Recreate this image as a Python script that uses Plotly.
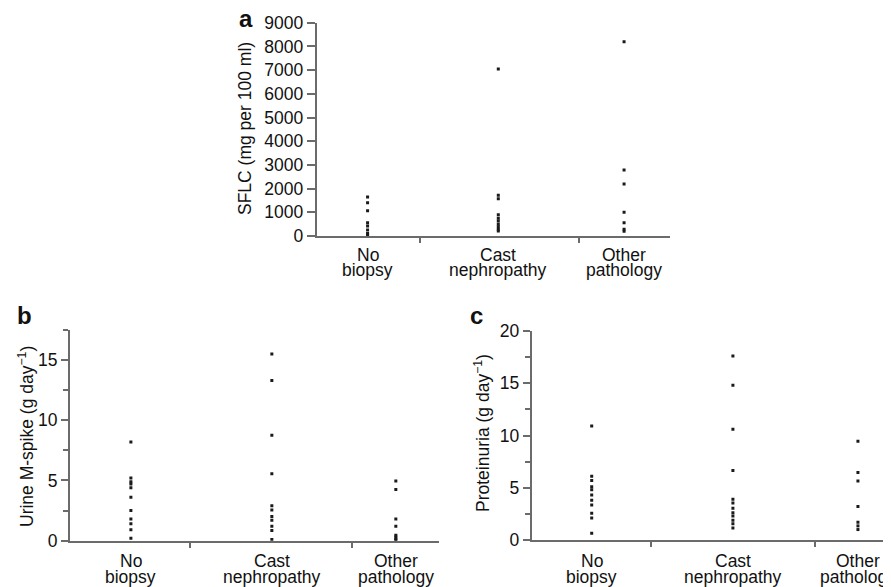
import plotly.graph_objects as go

category_lines = [["No", "biopsy"], ["Cast", "nephropathy"], ["Other", "pathology"]]

sflc_no_biopsy = [1650, 1400, 1070, 560, 420, 250, 110, 40]
sflc_cast = [7050, 1720, 1570, 900, 750, 630, 500, 390, 280, 210]
sflc_other = [8200, 2780, 2190, 1000, 560, 280, 200]

mspike_no_biopsy = [8.2, 5.2, 4.9, 4.7, 4.4, 3.6, 2.5, 1.8, 1.4, 0.9, 0.2]
mspike_cast = [15.5, 13.3, 8.75, 5.55, 2.9, 2.55, 2.0, 1.7, 1.2, 0.85, 0.1]
mspike_other = [4.95, 4.25, 1.8, 1.2, 0.45, 0.3, 0.15, 0.05]

prot_no_biopsy = [10.9, 6.1, 5.7, 5.1, 4.8, 4.3, 3.8, 3.35, 2.55, 2.1, 0.65]
prot_cast = [17.6, 14.8, 10.6, 6.65, 3.9, 3.55, 3.05, 2.6, 2.3, 1.9, 1.55, 1.15]
prot_other = [9.45, 6.45, 5.65, 3.2, 1.7, 1.35, 1.0]

# layout: category centres and separator ticks as fraction of each x axis
POS_A = [0.144, 0.514, 0.870]
SEP_A = [0.291, 0.743]
POS_B = [0.165, 0.547, 0.883]
SEP_B = [0.325, 0.764]
POS_C = [0.167, 0.560, 0.908]
SEP_C = [0.332, 0.788]

FONT = "Liberation Sans, Arial, sans-serif"
FS = 17.5
AXCOL = "#6b6b6b"
DOT = "#1a1a1a"
TXT = "#111111"
OFF = 8                      # page body margin offset
W, H = 891 - OFF, 587 - OFF  # figure size


def px(x):
    return (x - OFF) / W


def py(y):
    return (H - (y - OFF)) / H


fig = go.Figure()

panels = [
    ("x", "y", POS_A, [sflc_no_biopsy, sflc_cast, sflc_other]),
    ("x2", "y2", POS_B, [mspike_no_biopsy, mspike_cast, mspike_other]),
    ("x3", "y3", POS_C, [prot_no_biopsy, prot_cast, prot_other]),
]
for xa, ya, pos, groups in panels:
    for p, vals in zip(pos, groups):
        fig.add_trace(go.Scatter(
            x=[p] * len(vals), y=vals, xaxis=xa, yaxis=ya, mode="markers",
            marker=dict(symbol="square", size=3, color=DOT, line=dict(width=0)),
            showlegend=False, hoverinfo="y"))


def xaxis(domain, sep, anchor):
    return dict(domain=domain, range=[0, 1], anchor=anchor, automargin=False,
                showgrid=False, zeroline=False, showline=True,
                linecolor=AXCOL, linewidth=2,
                showticklabels=False, ticks="",
                minor=dict(tickmode="array", tickvals=sep, ticks="outside",
                           ticklen=5, tickwidth=2, tickcolor=AXCOL, showgrid=False),
                fixedrange=True)


def yaxis(domain, rng, dtick, anchor, minor=None, ticklen=6):
    d = dict(domain=domain, range=rng, anchor=anchor, automargin=False,
             showgrid=False, zeroline=False, showline=True,
             linecolor=AXCOL, linewidth=2,
             tickmode="linear", tick0=0, dtick=dtick,
             ticks="outside", ticklen=ticklen, tickwidth=2, tickcolor=AXCOL,
             tickfont=dict(family=FONT, size=FS, color=TXT),
             fixedrange=True)
    if minor:
        d["minor"] = dict(dtick=minor, tick0=0, ticks="outside", ticklen=5,
                          tickwidth=1.5, tickcolor=AXCOL, showgrid=False)
    return d


fig.update_layout(
    template="none",
    width=W, height=H,
    margin=dict(l=0, r=0, t=0, b=0, autoexpand=False),
    paper_bgcolor="white", plot_bgcolor="white",
    font=dict(family=FONT, size=FS, color=TXT),
    xaxis=xaxis([px(316.7), px(670)], SEP_A, "y"),
    yaxis=yaxis([py(236), py(22.7)], [0, 9000], 1000, "x", ticklen=8),
    xaxis2=xaxis([px(70), px(439)], SEP_B, "y2"),
    yaxis2=yaxis([py(540.7), py(329.9)], [0, 17.5], 5, "x2", minor=2.5, ticklen=7),
    xaxis3=xaxis([px(531.7), 1.0], SEP_C, "y3"),
    yaxis3=yaxis([py(540), py(331)], [0, 20], 5, "x3", minor=2.5, ticklen=7),
)


def ann(text, x, y, size=FS, angle=0, bold=False, xref="paper"):
    fig.add_annotation(
        text=f"<b>{text}</b>" if bold else text,
        x=x if xref != "paper" else px(x), y=py(y),
        xref=xref, yref="paper",
        xanchor="center", yanchor="middle", showarrow=False,
        textangle=angle, font=dict(family=FONT, size=size, color=TXT))


# category labels (two tight lines each)
label_rows = [("x", POS_A, 254.5, 270.0), ("x2", POS_B, 561.0, 577.0), ("x3", POS_C, 561.0, 577.0)]
for xref, pos, y1, y2 in label_rows:
    for p, (l1, l2) in zip(pos, category_lines):
        ann(l1, p, y1, xref=xref)
        ann(l2, p, y2, xref=xref)

ann("SFLC (mg per 100 ml)", 245, 129, angle=-90)
ann("Urine M-spike (g day<sup>−1</sup>)", 26, 437, angle=-90)
ann("Proteinuria (g day<sup>−1</sup>)", 482, 433, angle=-90)
ann("a", 246, 18, size=24, bold=True)
ann("b", 24, 315, size=24, bold=True)
ann("c", 476, 315, size=24, bold=True)

fig.write_html("out.html")
